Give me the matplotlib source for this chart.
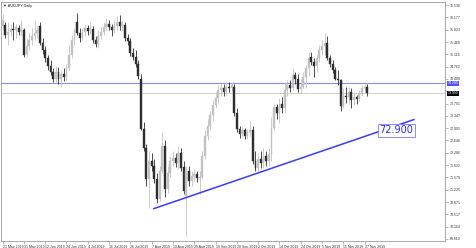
import matplotlib
matplotlib.use("Agg")
import matplotlib.pyplot as plt
import matplotlib.transforms as mtransforms

# AUDJPY daily bars, 21 May 2019 .. 28 Nov 2019
opens = [75.92, 75.95, 75.66, 75.75, 75.84, 75.81, 75.87, 75.78, 75.81, 75.12,
         75.35, 75.52, 75.64, 75.72, 75.92, 75.43, 75.23, 75.00, 74.77, 74.60,
         74.40, 74.60, 74.42, 74.54, 74.45, 74.71, 75.09, 75.52, 76.04, 75.72,
         75.58, 75.75, 75.87, 75.78, 75.84, 75.52, 75.41, 75.64, 75.75, 75.90,
         75.98, 75.90, 75.81, 75.92, 76.04, 75.92, 75.95, 75.58, 75.49, 75.15,
         75.03, 74.83, 74.42, 72.98, 72.43, 71.54, 72.06, 71.92, 71.54, 70.96,
         71.77, 72.49, 71.25, 71.71, 72.06, 72.15, 72.00, 72.29, 71.89, 71.05,
         71.77, 71.48, 71.63, 71.69, 71.57, 71.60, 72.20, 72.78, 73.07, 73.36,
         73.65, 73.85, 74.08, 74.14, 74.02, 74.19, 74.14, 74.19, 73.42, 72.98,
         72.84, 72.93, 72.78, 72.87, 72.93, 72.06, 71.86, 72.12, 72.00, 72.20,
         72.06, 72.26, 73.01, 73.59, 73.44, 73.70, 73.56, 74.08, 74.22, 74.14,
         74.51, 74.42, 74.11, 74.19, 74.45, 74.71, 75.03, 74.89, 74.77, 75.00,
         75.23, 75.35, 75.43, 75.00, 74.83, 74.66, 74.42, 74.37, 73.62, 73.93,
         73.88, 74.02, 73.79, 73.88, 73.82, 73.99, 74.14, 74.19]
highs = [76.27, 76.04, 76.04, 75.98, 76.04, 75.98, 75.95, 76.10, 75.87, 75.58,
         75.72, 75.87, 76.10, 75.95, 76.04, 75.58, 75.35, 75.09, 74.94, 74.71,
         74.77, 74.74, 74.66, 74.71, 74.83, 75.38, 75.66, 75.87, 76.30, 75.87,
         75.87, 75.98, 75.95, 76.04, 75.92, 75.64, 75.81, 75.90, 76.04, 76.15,
         76.10, 75.98, 76.10, 76.21, 76.24, 76.10, 76.04, 75.69, 75.58, 75.29,
         75.23, 74.94, 74.54, 73.16, 72.55, 72.35, 72.29, 72.12, 71.71, 71.92,
         72.87, 72.64, 71.92, 72.20, 72.35, 72.29, 72.49, 72.41, 72.06, 71.92,
         71.92, 71.77, 71.83, 71.77, 71.77, 72.35, 72.93, 73.27, 73.50, 73.79,
         74.02, 74.22, 74.28, 74.25, 74.31, 74.31, 74.31, 74.25, 73.56, 73.07,
         73.04, 73.01, 72.98, 73.21, 73.07, 72.35, 72.29, 72.35, 72.43, 72.35,
         72.43, 73.30, 73.70, 73.68, 73.85, 73.88, 74.28, 74.37, 74.37, 74.71,
         74.60, 74.54, 74.42, 74.60, 74.80, 75.17, 75.17, 75.00, 75.09, 75.38,
         75.52, 75.72, 75.64, 75.09, 74.94, 74.74, 74.66, 74.42, 74.14, 74.17,
         74.17, 74.14, 74.02, 73.96, 74.08, 74.22, 74.25, 74.25]
lows = [75.81, 75.58, 75.38, 75.64, 75.52, 75.58, 75.66, 75.64, 75.03, 75.03,
        75.23, 75.38, 75.52, 75.58, 75.38, 75.12, 74.89, 74.66, 74.51, 74.31,
        74.28, 74.25, 74.17, 74.34, 74.37, 74.66, 75.00, 75.38, 75.66, 75.46,
        75.52, 75.64, 75.66, 75.69, 75.43, 75.32, 75.29, 75.55, 75.66, 75.81,
        75.81, 75.64, 75.72, 75.81, 75.81, 75.78, 75.49, 75.38, 75.06, 74.94,
        74.74, 74.40, 72.93, 72.35, 71.34, 70.70, 71.77, 71.43, 70.85, 70.91,
        71.71, 71.02, 71.14, 71.60, 71.92, 71.89, 71.83, 71.77, 71.11, 69.90,
        71.34, 71.34, 71.48, 71.45, 71.11, 71.54, 72.12, 72.64, 72.93, 73.21,
        73.56, 73.73, 73.93, 73.91, 73.93, 74.02, 74.05, 73.33, 72.87, 72.72,
        72.75, 72.67, 72.69, 72.78, 71.97, 71.77, 71.71, 71.86, 71.86, 71.92,
        71.92, 72.06, 72.93, 73.27, 73.13, 73.44, 73.44, 73.93, 74.02, 74.08,
        74.25, 74.02, 73.99, 74.14, 74.14, 74.48, 74.80, 74.45, 74.60, 74.89,
        75.09, 75.09, 74.94, 74.74, 74.57, 74.37, 74.22, 73.50, 73.56, 73.73,
        73.68, 73.56, 73.65, 73.68, 73.76, 73.91, 74.02, 73.93]
closes = [76.10, 75.66, 75.75, 75.84, 75.81, 75.90, 75.75, 75.81, 75.09, 75.35,
          75.52, 75.64, 75.72, 75.81, 75.43, 75.23, 75.00, 74.77, 74.60, 74.40,
          74.60, 74.42, 74.54, 74.45, 74.71, 75.09, 75.52, 75.81, 75.72, 75.58,
          75.75, 75.87, 75.78, 75.87, 75.52, 75.41, 75.64, 75.75, 75.90, 75.98,
          75.90, 75.81, 75.92, 76.04, 75.92, 75.98, 75.58, 75.49, 75.15, 75.03,
          74.83, 74.48, 72.98, 72.43, 71.54, 72.06, 71.92, 71.54, 70.96, 71.77,
          72.49, 71.25, 71.71, 72.06, 72.15, 72.00, 72.29, 71.86, 71.19, 71.77,
          71.48, 71.63, 71.69, 71.57, 71.60, 72.20, 72.78, 73.07, 73.36, 73.65,
          73.85, 74.08, 74.14, 74.02, 74.19, 74.14, 74.22, 73.42, 72.98, 72.84,
          72.93, 72.78, 72.87, 72.93, 72.06, 71.86, 72.12, 72.00, 72.20, 72.06,
          72.26, 73.01, 73.59, 73.44, 73.70, 73.56, 74.08, 74.22, 74.14, 74.51,
          74.42, 74.11, 74.19, 74.45, 74.71, 75.00, 74.89, 74.77, 75.00, 75.23,
          75.35, 75.43, 75.00, 74.83, 74.66, 74.42, 74.37, 73.62, 73.93, 73.88,
          74.02, 73.79, 73.88, 73.82, 73.99, 74.14, 74.19, 73.99]

date_labels = ["21 May 2019", "31 May 2019", "12 Jun 2019", "24 Jun 2019", "4 Jul 2019",
               "16 Jul 2019", "26 Jul 2019", "7 Aug 2019", "19 Aug 2019", "29 Aug 2019",
               "10 Sep 2019", "20 Sep 2019", "2 Oct 2019", "14 Oct 2019", "24 Oct 2019",
               "5 Nov 2019", "15 Nov 2019", "27 Nov 2019"]
price_ticks = [69.810, 70.164, 70.517, 70.871, 71.225, 71.579, 71.932, 72.286, 72.640, 72.993,
               73.347, 73.701, 74.054, 74.408, 74.762, 75.116, 75.469, 75.823, 76.177, 76.530]
# the terminal hides the scale label that sits under the bid marker
price_labels = ["69.810", "70.164", "70.517", "70.871", "71.225", "71.579", "71.932", "72.286",
                "72.640", "72.993", "73.347", "73.701", "", "74.408", "74.762", "75.116",
                "75.469", "75.823", "76.177", "76.530"]

# trendline (bar index, price) and horizontal levels
trend_x = [56.8, 154.5]
trend_y = [70.68, 73.24]
trend_label = "72.900"
level_price = 74.28
bid_price = 73.99

bull_col = "#c2c2c2"
bear_col = "#2e2e2e"
small_font = "Liberation Sans"

fig = plt.figure(figsize=(4.76, 2.48), dpi=100)
ax = fig.add_axes([1 / 476, 7 / 248, 444 / 476, 239 / 248])

idx = list(range(len(closes)))
for i in idx:
    o, h, l, c = opens[i], highs[i], lows[i], closes[i]
    col = bull_col if c >= o else bear_col
    ax.vlines(i, l, h, color=col, lw=0.6, zorder=2)
    bottom = min(o, c)
    height = max(abs(c - o), 0.012)
    ax.bar(i, height, bottom=bottom, width=0.7, color=col, edgecolor=col,
           linewidth=0.3, zorder=3)

ax.axhline(level_price, color="#8c8cff", lw=0.8, zorder=1)
ax.axhline(bid_price, color="#c8c8c8", lw=0.6, zorder=1)
ax.plot(trend_x, trend_y, color="#3a3aff", lw=1.1, zorder=4)
ax.text(141.6, 72.93, trend_label, color="#2a2aff", fontsize=7, va="center", ha="left",
        zorder=5, bbox=dict(boxstyle="square,pad=0.12", fc="white", ec="#8c8cff", lw=0.7))

ax.set_xlim(-0.6, 166.2)
ax.set_ylim(69.75, 76.62)

ax.set_xticks(list(range(0, 8 * len(date_labels), 8)))
ax.set_xticklabels(date_labels, fontsize=2.5, color="#333333", ha="left", family=small_font)
ax.yaxis.tick_right()
ax.set_yticks(price_ticks)
ax.set_yticklabels(price_labels, fontsize=2.5, color="#333333", family=small_font)
ax.tick_params(axis="x", length=2, width=0.4, pad=0.8, color="#888888")
ax.tick_params(axis="y", length=2, width=0.4, pad=1.5, color="#888888")
for s in ax.spines.values():
    s.set_color("#9a9a9a")
    s.set_linewidth(0.6)

# price labels on the right scale
tr = mtransforms.blended_transform_factory(ax.transAxes, ax.transData)
ax.text(1.006, level_price, "%.3f" % level_price, transform=tr, fontsize=2.5, color="white",
        family=small_font, va="center", ha="left",
        bbox=dict(boxstyle="square,pad=0.1", fc="#5050ff", ec="none"))
ax.text(1.006, bid_price, "%.3f" % bid_price, transform=tr, fontsize=2.5, color="white",
        family=small_font, va="center", ha="left",
        bbox=dict(boxstyle="square,pad=0.1", fc="black", ec="none"))

ax.text(0.004, 0.992, "\u25bc AUDJPY,Daily", transform=ax.transAxes, fontsize=2.8,
        color="#222222", va="top", ha="left", family=[small_font, "DejaVu Sans"])

fig.savefig("out.png", dpi=100)
